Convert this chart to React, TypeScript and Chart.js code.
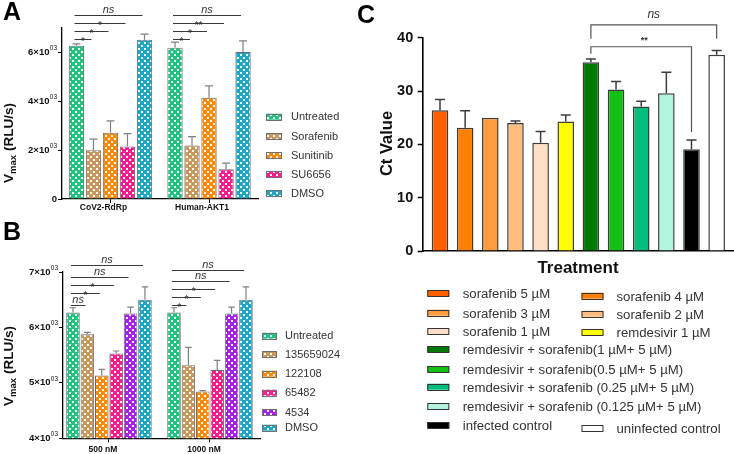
import React, { useEffect, useRef } from "react";
import { Chart, registerables } from "chart.js";

Chart.register(...registerables);

const FONT = "'Liberation Sans', Arial, Helvetica, sans-serif";

// ---------------- Panel A data ----------------
const aGroups = ["CoV2-RdRp", "Human-AKT1"];
const aSeriesNames = ["Untreated", "Sorafenib", "Sunitinib", "SU6656", "DMSO"];
const aUntreated = [6270, 6190];
const aSorafenib = [2000, 2190];
const aSunitinib = [2710, 4140];
const aSU6656 = [2150, 1220];
const aDMSO = [6520, 6020];
const aUntreatedErr = [80, 230];
const aSorafenibErr = [450, 360];
const aSunitinibErr = [490, 490];
const aSU6656Err = [530, 250];
const aDMSOErr = [230, 450];
const aColors = ["#1fc47f", "#c8975c", "#ff8a00", "#ff1a8e", "#1ea6c8"];
const aYTicks = [0, 2000, 4000, 6000];
const aSigLabels = [
  ["*", "*", "*", "ns"],
  ["*", "*", "**", "ns"],
];
const aSigLevels = [6530, 6870, 7215, 7544];

// ---------------- Panel B data ----------------
const bGroups = ["500 nM", "1000 nM"];
const bSeriesNames = ["Untreated", "135659024", "122108", "65482", "4534", "DMSO"];
const bUntreated = [6270, 6270];
const b135659024 = [5875, 5320];
const b122108 = [5135, 4845];
const b65482 = [5530, 5230];
const b4534 = [6250, 6250];
const bDMSO = [6500, 6500];
const bUntreatedErr = [85, 85];
const b135659024Err = [35, 320];
const b122108Err = [110, 15];
const b65482Err = [45, 175];
const b4534Err = [115, 115];
const bDMSOErr = [230, 230];
const bColors = ["#1fc47f", "#c8975c", "#ff8a00", "#ff1a8e", "#a820ec", "#1ea6c8"];
const bYTicks = [4000, 5000, 6000, 7000];
const bSigLabels = [
  ["ns", "*", "*", "ns", "ns"],
  ["*", "*", "*", "ns", "ns"],
];
const bSigLevels = [
  [6400, 6621, 6772, 6909, 7120],
  [6400, 6549, 6700, 6832, 7042],
];

// ---------------- Panel C data ----------------
const cCategories = [
  "sorafenib 5 µM",
  "sorafenib 4 µM",
  "sorafenib 3 µM",
  "sorafenib 2 µM",
  "sorafenib 1 µM",
  "remdesivir 1 µM",
  "remdesivir + sorafenib(1 µM+ 5 µM)",
  "remdesivir + sorafenib(0.5 µM+ 5 µM)",
  "remdesivir + sorafenib (0.25 µM+ 5 µM)",
  "remdesivir + sorafenib (0.125 µM+ 5 µM)",
  "infected control",
  "uninfected control",
];
const cValues = [26.4, 23.1, 25.0, 24.0, 20.3, 24.3, 35.4, 30.3, 27.1, 29.6, 19.1, 36.8];
const cErrors = [2.0, 3.2, 0, 0.4, 2.1, 1.2, 0.6, 1.5, 1.0, 3.9, 1.7, 0.8];
const cColors = [
  "#ff6100", "#ff8000", "#ff9c40", "#ffbe80", "#ffe0c6", "#ffff00",
  "#037a03", "#14c014", "#03be7a", "#b3f5dd", "#000000", "#ffffff",
];
const cYTicks = [0, 10, 20, 30, 40];
const cBrackets = [
  { from: 6, to: 11, label: "ns", level: 42.4, leftEnd: 39.8, rightEnd: 39.8 },
  { from: 6, to: 10, label: "**", level: 38.3, leftEnd: 37.0, rightEnd: 22.3 },
];

// ---------------- helpers ----------------
function checker(ctx: CanvasRenderingContext2D, color: string) {
  const cell = 3;
  const c = document.createElement("canvas");
  c.width = c.height = cell * 2;
  const x = c.getContext("2d")!;
  x.fillStyle = color;
  x.fillRect(0, 0, cell * 2, cell * 2);
  x.fillStyle = "#ffffff";
  x.fillRect(0, 0, 2, 2);
  x.fillRect(cell, cell, 2, 2);
  return ctx.createPattern(c, "repeat")!;
}

function drawVmaxTitle(ctx: CanvasRenderingContext2D, x: number, yc: number) {
  const big = `bold 13.5px ${FONT}`;
  const small = `bold 9.5px ${FONT}`;
  ctx.save();
  ctx.translate(x, yc);
  ctx.rotate(-Math.PI / 2);
  ctx.fillStyle = "#111";
  ctx.textAlign = "left";
  ctx.textBaseline = "alphabetic";
  ctx.font = big;
  const wV = ctx.measureText("V").width;
  const rest = " (RLU/s)";
  const wR = ctx.measureText(rest).width;
  ctx.font = small;
  const wS = ctx.measureText("max").width;
  let cx = -(wV + wS + wR) / 2;
  ctx.font = big;
  ctx.fillText("V", cx, 0);
  cx += wV;
  ctx.font = small;
  ctx.fillText("max", cx, 3.5);
  cx += wS;
  ctx.font = big;
  ctx.fillText(rest, cx, 0);
  ctx.restore();
}

function drawSciTicks(chart: any, ticks: number[]) {
  const ctx = chart.ctx as CanvasRenderingContext2D;
  const ys = chart.scales.y;
  const xr = chart.chartArea.left - 5;
  ctx.save();
  ctx.fillStyle = "#111";
  ctx.textAlign = "right";
  ctx.textBaseline = "middle";
  ticks.forEach((v) => {
    const py = ys.getPixelForValue(v);
    if (v === 0) {
      ctx.font = `bold 9.5px ${FONT}`;
      ctx.fillText("0", xr, py);
      return;
    }
    ctx.font = `6.5px ${FONT}`;
    const sup = "03";
    const sw = ctx.measureText(sup).width;
    ctx.fillText(sup, xr, py - 4);
    ctx.font = `bold 9.5px ${FONT}`;
    ctx.fillText(`${v / 1000}×10`, xr - sw - 0.3, py);
  });
  ctx.restore();
}

function drawPanelLetter(ctx: CanvasRenderingContext2D, letter: string, x: number, baseline: number) {
  ctx.save();
  ctx.font = `bold 25px ${FONT}`;
  ctx.fillStyle = "#000";
  ctx.textAlign = "left";
  ctx.textBaseline = "alphabetic";
  ctx.fillText(letter, x, baseline);
  ctx.restore();
}

function drawErrorBars(chart: any, cap: number, color: string, width: number) {
  const ctx = chart.ctx as CanvasRenderingContext2D;
  const ys = chart.scales.y;
  ctx.save();
  ctx.strokeStyle = color;
  ctx.lineWidth = width;
  chart.data.datasets.forEach((ds: any, di: number) => {
    const meta = chart.getDatasetMeta(di);
    meta.data.forEach((bar: any, i: number) => {
      const err = ds.errors[i];
      if (!err) return;
      const v = ds.data[i].y;
      const y0 = ys.getPixelForValue(v);
      const y1 = ys.getPixelForValue(v + err);
      ctx.beginPath();
      ctx.moveTo(bar.x, y0);
      ctx.lineTo(bar.x, y1);
      ctx.moveTo(bar.x - cap / 2, y1);
      ctx.lineTo(bar.x + cap / 2, y1);
      ctx.stroke();
    });
  });
  ctx.restore();
}

function drawSigLines(chart: any, labels: string[][], levelFor: (g: number, k: number) => number) {
  const ctx = chart.ctx as CanvasRenderingContext2D;
  const ys = chart.scales.y;
  ctx.save();
  labels.forEach((row, g) => {
    const x0 = chart.getDatasetMeta(0).data[g].x - 2;
    row.forEach((lab, k) => {
      const x1 = chart.getDatasetMeta(k + 1).data[g].x - 2;
      const py = Math.round(ys.getPixelForValue(levelFor(g, k))) + 0.5;
      ctx.strokeStyle = "#3a3a3a";
      ctx.lineWidth = 1;
      ctx.beginPath();
      ctx.moveTo(x0, py);
      ctx.lineTo(x1, py);
      ctx.stroke();
      ctx.fillStyle = "#333";
      ctx.textAlign = "center";
      ctx.textBaseline = "alphabetic";
      if (lab === "ns") {
        ctx.font = `italic 11px ${FONT}`;
        ctx.fillText(lab, (x0 + x1) / 2, py - 2.5);
      } else {
        ctx.font = `10px ${FONT}`;
        ctx.fillText(lab, (x0 + x1) / 2, py + 5);
      }
    });
  });
  ctx.restore();
}

function drawPatternLegend(chart: any, x: number, textX: number, w: number, rows: number[]) {
  const ctx = chart.ctx as CanvasRenderingContext2D;
  ctx.save();
  chart.data.datasets.forEach((ds: any, i: number) => {
    const yy = rows[i];
    ctx.fillStyle = ds.backgroundColor;
    ctx.fillRect(x, yy - 3, w, 6);
    ctx.strokeStyle = "#707070";
    ctx.lineWidth = 1;
    ctx.strokeRect(x + 0.5, Math.round(yy - 3) + 0.5, w - 1, 6);
    ctx.fillStyle = "#333";
    ctx.font = `11px ${FONT}`;
    ctx.textAlign = "left";
    ctx.textBaseline = "middle";
    ctx.fillText(ds.label, textX, yy + 0.5);
  });
  ctx.restore();
}

function groupedOptions(o: {
  groups: string[];
  ymin: number;
  ymax: number;
  ticks: number[];
  xmin: number;
  xmax: number;
  padTop: number;
  padRight: number;
  xHeight: number;
  yWidth: number;
  catPct: number;
  barPct: number;
  labelOffset: number;
  labelPad: number;
}) {
  return {
    animation: false,
    responsive: false,
    maintainAspectRatio: false,
    devicePixelRatio: 1,
    layout: { padding: { top: o.padTop, right: o.padRight, left: 0, bottom: 0 } },
    plugins: { legend: { display: false }, tooltip: { enabled: false } },
    datasets: { bar: { categoryPercentage: o.catPct, barPercentage: o.barPct } },
    scales: {
      x: {
        type: "linear",
        min: o.xmin,
        max: o.xmax,
        offset: false,
        afterBuildTicks: (s: any) => {
          s.ticks = o.groups.map((_, i) => ({ value: i }));
        },
        afterFit: (s: any) => {
          s.height = o.xHeight;
        },
        grid: {
          display: true,
          drawOnChartArea: false,
          drawTicks: true,
          tickLength: 4,
          tickColor: "#000",
          tickWidth: 1,
          offset: false,
        },
        border: { display: true, color: "#000", width: 1.3 },
        ticks: {
          callback: (v: any) => o.groups[v] ?? "",
          font: { family: FONT, size: 8.5, weight: "bold" },
          color: "#111",
          padding: o.labelPad,
          labelOffset: o.labelOffset,
          maxRotation: 0,
          autoSkip: false,
        },
      },
      y: {
        min: o.ymin,
        max: o.ymax,
        afterBuildTicks: (s: any) => {
          s.ticks = o.ticks.map((v) => ({ value: v }));
        },
        afterFit: (s: any) => {
          s.width = o.yWidth;
        },
        grid: { display: true, drawOnChartArea: false, tickLength: 4, tickColor: "#000", tickWidth: 1 },
        border: { display: true, color: "#000", width: 1.3 },
        ticks: { display: false },
      },
    },
  };
}

export default function App() {
  const aRef = useRef<HTMLCanvasElement>(null);
  const bRef = useRef<HTMLCanvasElement>(null);
  const cRef = useRef<HTMLCanvasElement>(null);

  useEffect(() => {
    const charts: Chart[] = [];

    // ---------- Panel A ----------
    const actx = aRef.current!.getContext("2d")!;
    const aValues = [aUntreated, aSorafenib, aSunitinib, aSU6656, aDMSO];
    const aErrs = [aUntreatedErr, aSorafenibErr, aSunitinibErr, aSU6656Err, aDMSOErr];
    const aLegendRows = [116.7, 136, 155.3, 174.3, 193.3];
    charts.push(
      new Chart(aRef.current!, {
        type: "bar",
        data: {
          datasets: aSeriesNames.map((name, i) => ({
            label: name,
            data: aValues[i].map((v, g) => ({ x: g, y: v })),
            errors: aErrs[i],
            backgroundColor: checker(actx, aColors[i]),
            borderColor: "#6a6a6a",
            borderWidth: 1,
          })) as any,
        },
        options: groupedOptions({
          groups: aGroups,
          ymin: 0,
          ymax: 7000,
          ticks: aYTicks,
          xmin: -0.492,
          xmax: 1.497,
          padTop: 28,
          padRight: 102,
          xHeight: 16,
          yWidth: 62,
          catPct: 0.863,
          barPct: 0.9,
          labelOffset: -7,
          labelPad: 0,
        }) as any,
        plugins: [
          {
            id: "panelA",
            afterDraw(chart: any) {
              drawErrorBars(chart, 8, "#808080", 1.2);
              drawSigLines(chart, aSigLabels, (g, k) => aSigLevels[k]);
              drawSciTicks(chart, aYTicks);
              drawVmaxTitle(chart.ctx, 12.5, 143);
              drawPatternLegend(chart, 266, 291, 16, aLegendRows);
              drawPanelLetter(chart.ctx, "A", 3, 20);
            },
          },
        ],
      })
    );

    // ---------- Panel B ----------
    const bctx = bRef.current!.getContext("2d")!;
    const bValues = [bUntreated, b135659024, b122108, b65482, b4534, bDMSO];
    const bErrs = [bUntreatedErr, b135659024Err, b122108Err, b65482Err, b4534Err, bDMSOErr];
    const bLegendRows = [120.7, 139.3, 158.7, 177.7, 197, 212.7];
    charts.push(
      new Chart(bRef.current!, {
        type: "bar",
        data: {
          datasets: bSeriesNames.map((name, i) => ({
            label: name,
            data: bValues[i].map((v, g) => ({ x: g, y: v })),
            errors: bErrs[i],
            backgroundColor: checker(bctx, bColors[i]),
            borderColor: "#6a6a6a",
            borderWidth: 1,
          })) as any,
        },
        options: groupedOptions({
          groups: bGroups,
          ymin: 4000,
          ymax: 7000,
          ticks: bYTicks,
          xmin: -0.455,
          xmax: 1.495,
          padTop: 57,
          padRight: 100,
          xHeight: 15.7,
          yWidth: 63,
          catPct: 0.855,
          barPct: 0.94,
          labelOffset: -6,
          labelPad: 2,
        }) as any,
        plugins: [
          {
            id: "panelB",
            afterDraw(chart: any) {
              drawErrorBars(chart, 6.5, "#808080", 1.2);
              drawSigLines(chart, bSigLabels, (g, k) => bSigLevels[g][k]);
              drawSciTicks(chart, bYTicks);
              drawVmaxTitle(chart.ctx, 12.5, 151);
              drawPatternLegend(chart, 262, 285, 15, bLegendRows);
              drawPanelLetter(chart.ctx, "B", 3, 25);
            },
          },
        ],
      })
    );

    // ---------- Panel C ----------
    const cLegendLayout = [
      [0, 293.3], [1, 295.7], [0, 312.7], [1, 313.7], [0, 331], [1, 332],
      [0, 349], [0, 369], [0, 386.7], [0, 406], [0, 425], [1, 427.7],
    ];
    const cLegendSwatchX = [77.3, 231.5];
    const cLegendTextX = [112.7, 266.5];
    charts.push(
      new Chart(cRef.current!, {
        type: "bar",
        data: {
          datasets: [
            {
              label: "Ct Value",
              data: cValues.map((v, i) => ({ x: i, y: v })),
              errors: cErrors,
              backgroundColor: cColors,
              borderColor: "#3d3d3d",
              borderWidth: 1.5,
              barPercentage: 0.66,
              categoryPercentage: 1,
            } as any,
          ],
        },
        options: {
          animation: false,
          responsive: false,
          maintainAspectRatio: false,
          devicePixelRatio: 1,
          layout: { padding: { top: 37.7, right: 0, left: 0, bottom: 202 } },
          plugins: { legend: { display: false }, tooltip: { enabled: false } },
          scales: {
            x: {
              type: "linear",
              min: -0.688,
              max: 11.69,
              offset: false,
              afterBuildTicks: (s: any) => {
                s.ticks = cCategories.map((_, i) => ({ value: i }));
              },
              afterFit: (s: any) => {
                s.height = 1;
              },
              grid: { display: false },
              ticks: { display: false },
              border: { display: true, color: "#000", width: 1.6 },
            },
            y: {
              min: 0,
              max: 40,
              afterBuildTicks: (s: any) => {
                s.ticks = cYTicks.map((v) => ({ value: v }));
              },
              afterFit: (s: any) => {
                s.width = 72.7;
              },
              grid: { display: true, drawOnChartArea: false, tickLength: 5, tickColor: "#000", tickWidth: 1.5 },
              border: { display: true, color: "#000", width: 1.6 },
              ticks: { font: { family: FONT, size: 14.5, weight: "bold" }, color: "#111", padding: 4.5 },
            },
          },
        } as any,
        plugins: [
          {
            id: "panelC",
            afterDraw(chart: any) {
              const ctx = chart.ctx as CanvasRenderingContext2D;
              const ys = chart.scales.y;
              drawErrorBars(chart, 10, "#3d3d3d", 1.5);
              // brackets
              const bars = chart.getDatasetMeta(0).data;
              ctx.save();
              cBrackets.forEach((b) => {
                const x0 = bars[b.from].x;
                const x1 = bars[b.to].x;
                const py = ys.getPixelForValue(b.level);
                ctx.strokeStyle = "#555";
                ctx.lineWidth = 1.2;
                ctx.beginPath();
                ctx.moveTo(x0, ys.getPixelForValue(b.leftEnd));
                ctx.lineTo(x0, py);
                ctx.lineTo(x1, py);
                ctx.lineTo(x1, ys.getPixelForValue(b.rightEnd));
                ctx.stroke();
                ctx.fillStyle = "#333";
                ctx.textAlign = "center";
                ctx.textBaseline = "alphabetic";
                if (b.label === "ns") {
                  ctx.font = `italic 12px ${FONT}`;
                  ctx.fillText(b.label, (x0 + x1) / 2, py - 7);
                } else {
                  ctx.font = `bold 9px ${FONT}`;
                  ctx.fillText(b.label, (x0 + x1) / 2 + 3, py - 4);
                }
              });
              // y title
              ctx.save();
              ctx.translate(41.7, 143.5);
              ctx.rotate(-Math.PI / 2);
              ctx.font = `bold 16.5px ${FONT}`;
              ctx.fillStyle = "#111";
              ctx.textAlign = "center";
              ctx.textBaseline = "alphabetic";
              ctx.fillText("Ct Value", 0, 0);
              ctx.restore();
              // x title
              ctx.font = `bold 17px ${FONT}`;
              ctx.fillStyle = "#111";
              ctx.textAlign = "center";
              ctx.textBaseline = "middle";
              ctx.fillText("Treatment", 228, 268);
              // legend
              cCategories.forEach((name, i) => {
                const [col, yy] = cLegendLayout[i];
                const sx = cLegendSwatchX[col];
                ctx.fillStyle = cColors[i];
                ctx.fillRect(sx, yy - 3, 22, 6);
                ctx.strokeStyle = "#333";
                ctx.lineWidth = 1;
                ctx.strokeRect(sx + 0.5, Math.round(yy - 3) + 0.5, 21, 6);
                ctx.fillStyle = "#333";
                ctx.font = `13.2px ${FONT}`;
                ctx.textAlign = "left";
                ctx.textBaseline = "middle";
                ctx.fillText(name, cLegendTextX[col], yy + 1.5);
              });
              ctx.restore();
              drawPanelLetter(ctx, "C", 7, 23.3);
            },
          },
        ],
      })
    );

    return () => charts.forEach((c) => c.destroy());
  }, []);

  return (
    <div
      style={{
        position: "fixed",
        left: 0,
        top: 0,
        width: 734,
        height: 454,
        background: "#fff",
        overflow: "hidden",
      }}
    >
      <canvas ref={aRef} width={360} height={215} style={{ position: "absolute", left: 0, top: 0 }} />
      <canvas ref={bRef} width={360} height={239} style={{ position: "absolute", left: 0, top: 215 }} />
      <canvas ref={cRef} width={384} height={454} style={{ position: "absolute", left: 350, top: 0 }} />
    </div>
  );
}
